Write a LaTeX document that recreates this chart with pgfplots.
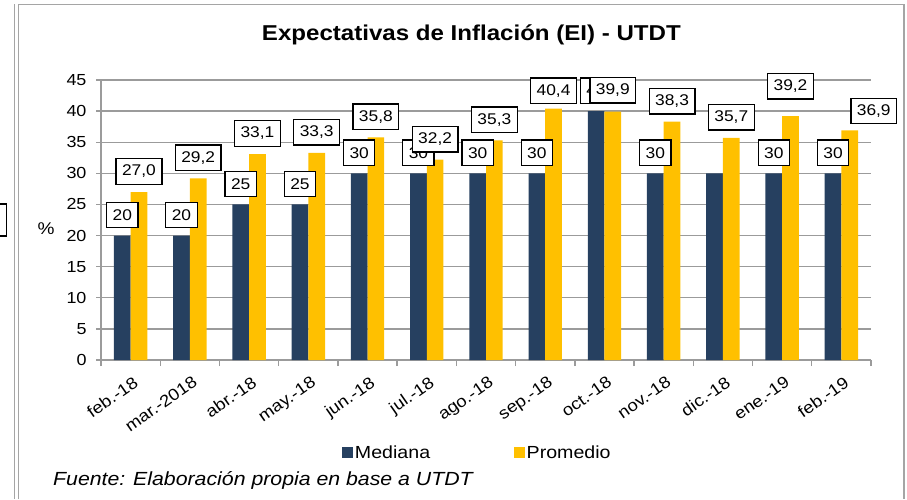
\documentclass[border=0pt]{standalone}
\usepackage{fontspec}
\setmainfont{Liberation Sans}[FakeStretch=1.12]
\usepackage{pgfplots}
\usepackage{pgfplotstable}
\pgfplotsset{compat=1.18}

\definecolor{medblue}{RGB}{38,64,96}
\definecolor{promyel}{RGB}{255,192,0}
\definecolor{gridgray}{RGB}{155,155,155}
\definecolor{framegray}{RGB}{165,165,165}

% x: category index, pdx/pdy: manual label offsets (pt) for Promedio
\pgfplotstableread{
x  med prom pdx pdy
0  20  27.0 0   0
1  20  29.2 0   0
2  25  33.1 0   0
3  25  33.3 0   0
4  30  35.8 0   0
5  30  32.2 0   0
6  30  35.3 0   0
7  30  40.4 0   -2.5
8  40  39.9 0   1
9  30  38.3 0   0
10 30  35.7 0   0
11 30  39.2 0   9.5
12 30  36.9 24  -1
}\datatable

\tikzset{
  lbl/.style={anchor=center, draw=black, line width=1.3pt, fill=white, text=black,
    inner xsep=6pt, inner ysep=0pt, minimum height=25.5pt,
    font=\fontsize{15.5}{18}\selectfont},
}

\begin{document}
\begin{tikzpicture}
\path[use as bounding box] (0,0) rectangle (907pt,-499pt);

% frame
\draw[framegray, line width=1pt] (14.5pt,-4pt) -- (14.5pt,-499pt);
\draw[framegray, line width=1.3pt] (18.5pt,-499pt) -- (18.5pt,-4.5pt) -- (904pt,-4.5pt) -- (904pt,-499pt);
\draw[black, line width=1.3pt] (-6pt,-204pt) rectangle (6.5pt,-236pt);

\begin{axis}[
    at={(101pt,-360pt)}, anchor=south west,
    scale only axis, width=770pt, height=280pt,
    ybar, bar width=16.7pt,
    xmin=-0.5, xmax=12.5, ymin=0, ymax=45,
    axis lines=left,
    axis line style={-, draw=gridgray, line width=1.4pt},
    ymajorgrids, grid style={gridgray, line width=1.4pt},
    ytick={0,5,...,45},
    xtick={0,...,12},
    xticklabels={feb.-18, mar.-2018, abr.-18, may.-18, jun.-18, jul.-18, ago.-18, sep.-18, oct.-18, nov.-18, dic.-18, ene.-19, feb.-19},
    minor xtick={-0.5,0.5,...,12.5},
    tick align=outside,
    major tick length=5pt, minor tick length=6pt,
    tick style={gridgray, line width=1.4pt},
    major x tick style={draw=none},
    /pgf/number format/assume math mode=true,
    yticklabel style={font=\fontsize{16}{19}\selectfont, xshift=-6pt},
    xticklabel style={font=\fontsize{16.5}{19}\selectfont, rotate=35, anchor=north east,
      yshift=-6pt, xshift=-1pt},
    title={Expectativas de Inflación (EI) - UTDT},
    title style={at={(axis description cs:0.481,1.118)}, anchor=base,
      font=\bfseries\fontsize{21.5}{25}\selectfont},
    ylabel={\%},
    every axis y label/.style={at={(axis description cs:-0.0714,0.47)}, anchor=center,
      font=\fontsize{17}{20}\selectfont},
    legend style={at={(axis description cs:0.489,-0.332)}, anchor=center,
      draw=none, fill=none, legend columns=2,
      font=\fontsize{17.5}{21}\selectfont,
      /tikz/every even column/.append style={column sep=82pt}},
    legend image code/.code={\fill[#1, draw=none] (0pt,-5pt) rectangle (10.5pt,5.5pt);},
]
\addplot[fill=medblue, draw=none, bar shift=-8.35pt] table[x=x, y=med] {\datatable};
\addplot[fill=promyel, draw=none, bar shift=8.35pt] table[x=x, y=prom] {\datatable};
\legend{Mediana, Promedio}

% data labels on top of all bars
\addplot[draw=none, fill=none, bar shift=-8.35pt, forget plot,
    skip coords between index={10}{11},
    nodes near coords={\pgfmathprintnumber[fixed, precision=0]{\pgfplotspointmeta}},
    every node near coord/.append style={lbl, yshift=20.5pt}]
    table[x=x, y=med] {\datatable};
\addplot[draw=none, fill=none, bar shift=8.35pt, forget plot,
    visualization depends on={\thisrow{pdx} \as \pdx},
    visualization depends on={\thisrow{pdy} \as \pdy},
    nodes near coords={\pgfmathprintnumber[fixed, fixed zerofill, precision=1, use comma]{\pgfplotspointmeta}},
    every node near coord/.append style={lbl, xshift=\pdx pt, yshift=20.5pt+\pdy pt}]
    table[x=x, y=prom] {\datatable};
\end{axis}

\node[anchor=base west, font=\itshape\fontsize{19}{22}\selectfont, inner sep=0pt]
  at (53pt,-485.5pt) {Fuente: Elaboración propia en base a UTDT};
\end{tikzpicture}
\end{document}
